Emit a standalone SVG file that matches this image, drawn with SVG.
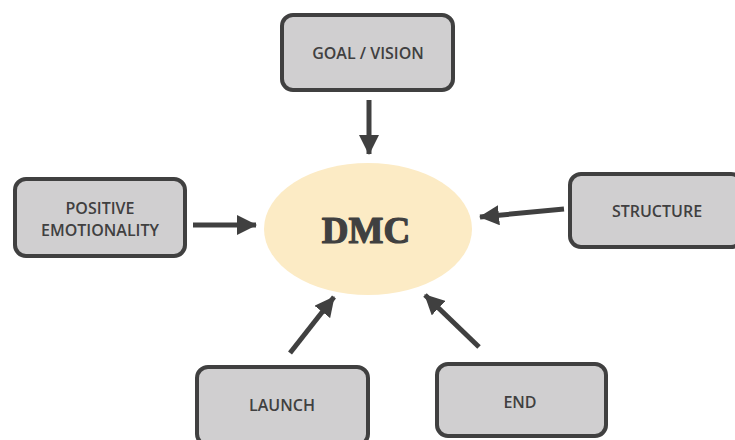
<svg xmlns="http://www.w3.org/2000/svg" width="735" height="440" viewBox="0 0 735 440">
  <style>
    .box { fill: #d0cfd0; stroke: #404040; stroke-width: 4; }
    .label { font-family: "Open Sans", "Liberation Sans", sans-serif; font-weight: 600; font-size: 16px; fill: #404040; text-anchor: middle; }
    .title { font-family: "Liberation Serif", "DejaVu Serif", serif; font-weight: bold; font-size: 37px; fill: #404040; stroke: #404040; stroke-width: 1.2; stroke-linejoin: round; text-anchor: middle; }
    .conn { stroke: #404040; stroke-width: 5; fill: none; }
  </style>
  <defs>
    <marker id="head" markerUnits="userSpaceOnUse" markerWidth="20" markerHeight="20" viewBox="0 0 20 20" refX="19" refY="10" orient="auto">
      <path d="M0,0 L20,10 L0,20 Z" fill="#404040"/>
    </marker>
  </defs>
  <rect width="735" height="440" fill="#ffffff"/>

  <g id="dmc">
    <ellipse cx="368" cy="229" rx="104" ry="66" fill="#fcebc5"/>
    <text class="title" x="366" y="243">DMC</text>
  </g>

  <g id="goal-vision">
    <rect class="box" x="282" y="15" width="171" height="75" rx="11"/>
    <text class="label" x="368" y="59">GOAL / VISION</text>
  </g>

  <g id="positive-emotionality">
    <rect class="box" x="15" y="179" width="170" height="77" rx="11"/>
    <text class="label" x="100" y="214">POSITIVE</text>
    <text class="label" x="100" y="236">EMOTIONALITY</text>
  </g>

  <g id="structure">
    <rect class="box" x="570" y="174" width="172" height="73" rx="11"/>
    <text class="label" x="657" y="217">STRUCTURE</text>
  </g>

  <g id="launch">
    <rect class="box" x="197" y="367" width="171" height="78" rx="11"/>
    <text class="label" x="282" y="411">LAUNCH</text>
  </g>

  <g id="end">
    <rect class="box" x="437" y="364" width="169" height="72" rx="11"/>
    <text class="label" x="520" y="408">END</text>
  </g>

  <g id="connectors">
    <line class="conn" x1="369" y1="100" x2="369" y2="154" marker-end="url(#head)"/>
    <line class="conn" x1="193" y1="225" x2="256" y2="225" marker-end="url(#head)"/>
    <line class="conn" x1="564" y1="209" x2="480" y2="217" marker-end="url(#head)"/>
    <line class="conn" x1="290" y1="353" x2="334" y2="297" marker-end="url(#head)"/>
    <line class="conn" x1="479" y1="347" x2="425" y2="295" marker-end="url(#head)"/>
  </g>
</svg>
